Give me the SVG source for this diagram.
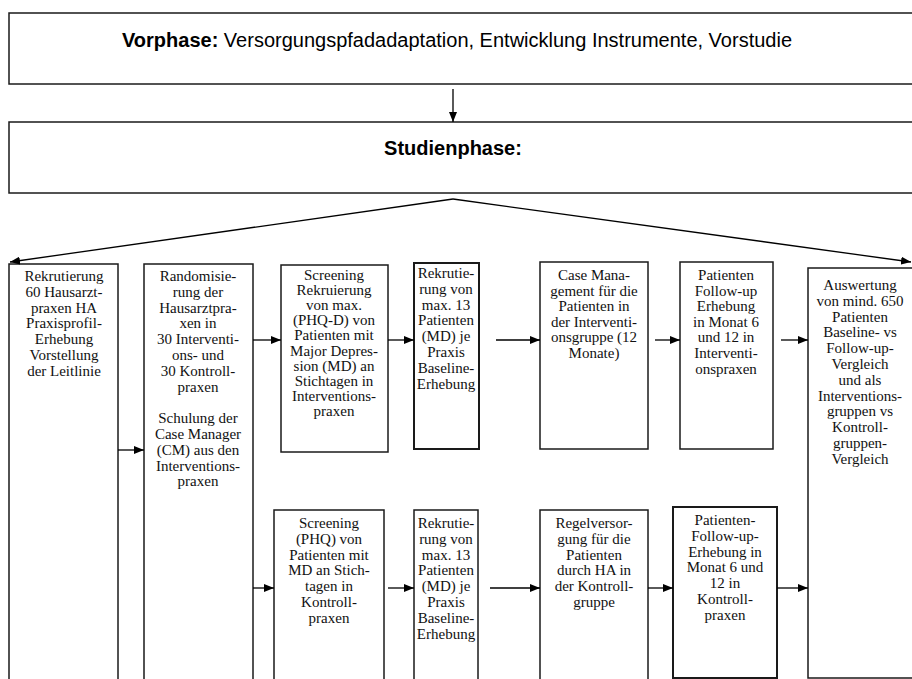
<svg xmlns="http://www.w3.org/2000/svg" width="912" height="679" viewBox="0 0 912 679">
<style>
.box{fill:#fff;stroke:#1a1a1a;stroke-width:1.5}
.thick{stroke-width:2}
.t{font-family:"Liberation Serif","Times New Roman",serif;font-size:15px;fill:#111;text-anchor:middle}
.h{font-family:"Liberation Sans",Arial,sans-serif;font-size:20px;fill:#000;text-anchor:middle}
.c{fill:none;stroke:#000;stroke-width:1.3}
</style>
<defs>
<marker id="ah" markerUnits="userSpaceOnUse" markerWidth="10" markerHeight="8" refX="10" refY="4" orient="auto">
<path d="M0,0 L10,4 L0,8 z" fill="#000"/>
</marker>
</defs>
<rect width="912" height="679" fill="#fff"/>

<g id="vorphase">
<rect class="box" x="9" y="13" width="910" height="71"/>
<text class="h" x="457" y="47"><tspan font-weight="bold">Vorphase:</tspan> Versorgungspfadadaptation, Entwicklung Instrumente, Vorstudie</text>
</g>

<g id="studienphase">
<rect class="box" x="9" y="122" width="910" height="71"/>
<text class="h" x="453" y="155" font-weight="bold">Studienphase:</text>
</g>

<g id="rekrutierung">
<rect class="box" x="9" y="264" width="109" height="430"/>
<text class="t" x="64" y="281"><tspan x="64">Rekrutierung</tspan><tspan x="64" dy="15.8">60 Hausarzt-</tspan><tspan x="64" dy="15.8">praxen HA</tspan><tspan x="64" dy="15.8">Praxisprofil-</tspan><tspan x="64" dy="15.8">Erhebung</tspan><tspan x="64" dy="15.8">Vorstellung</tspan><tspan x="64" dy="15.8">der Leitlinie</tspan></text>
</g>

<g id="randomisierung">
<rect class="box" x="144" y="264" width="109" height="430"/>
<text class="t" x="198" y="281"><tspan x="198">Randomisie-</tspan><tspan x="198" dy="15.8">rung der</tspan><tspan x="198" dy="15.8">Hausarztpra-</tspan><tspan x="198" dy="15.8">xen in</tspan><tspan x="198" dy="15.8">30 Interventi-</tspan><tspan x="198" dy="15.8">ons- und</tspan><tspan x="198" dy="15.8">30 Kontroll-</tspan><tspan x="198" dy="15.8">praxen</tspan><tspan x="198" dy="31.6">Schulung der</tspan><tspan x="198" dy="15.8">Case Manager</tspan><tspan x="198" dy="15.8">(CM) aus den</tspan><tspan x="198" dy="15.8">Interventions-</tspan><tspan x="198" dy="15.8">praxen</tspan></text>
</g>

<g id="screening-int">
<rect class="box" x="281" y="265" width="107" height="187"/>
<text class="t" x="334" y="280"><tspan x="334">Screening</tspan><tspan x="334" dy="15.1">Rekruierung</tspan><tspan x="334" dy="15.1">von max.</tspan><tspan x="334" dy="15.1">(PHQ-D) von</tspan><tspan x="334" dy="15.1">Patienten mit</tspan><tspan x="334" dy="15.1">Major Depres-</tspan><tspan x="334" dy="15.1">sion (MD) an</tspan><tspan x="334" dy="15.1">Stichtagen in</tspan><tspan x="334" dy="15.1">Interventions-</tspan><tspan x="334" dy="15.1">praxen</tspan></text>
</g>

<g id="rekrut-int">
<rect class="box thick" x="414" y="263" width="65" height="186"/>
<text class="t" x="446" y="278"><tspan x="446">Rekrutie-</tspan><tspan x="446" dy="15.8">rung von</tspan><tspan x="446" dy="15.8">max. 13</tspan><tspan x="446" dy="15.8">Patienten</tspan><tspan x="446" dy="15.8">(MD) je</tspan><tspan x="446" dy="15.8">Praxis</tspan><tspan x="446" dy="15.8">Baseline-</tspan><tspan x="446" dy="15.8">Erhebung</tspan></text>
</g>

<g id="case-management">
<rect class="box" x="540" y="262" width="108" height="187"/>
<text class="t" x="594" y="280"><tspan x="594">Case Mana-</tspan><tspan x="594" dy="15.6">gement für die</tspan><tspan x="594" dy="15.6">Patienten in</tspan><tspan x="594" dy="15.6">der Interventi-</tspan><tspan x="594" dy="15.6">onsgruppe (12</tspan><tspan x="594" dy="15.6">Monate)</tspan></text>
</g>

<g id="followup-int">
<rect class="box" x="680" y="262" width="93" height="187"/>
<text class="t" x="726" y="280"><tspan x="726">Patienten</tspan><tspan x="726" dy="15.6">Follow-up</tspan><tspan x="726" dy="15.6">Erhebung</tspan><tspan x="726" dy="15.6">in Monat 6</tspan><tspan x="726" dy="15.6">und 12 in</tspan><tspan x="726" dy="15.6">Interventi-</tspan><tspan x="726" dy="15.6">onspraxen</tspan></text>
</g>

<g id="auswertung">
<rect class="box" x="808" y="268" width="120" height="410"/>
<text class="t" x="860" y="290"><tspan x="860">Auswertung</tspan><tspan x="860" dy="15.8">von mind. 650</tspan><tspan x="860" dy="15.8">Patienten</tspan><tspan x="860" dy="15.8">Baseline- vs</tspan><tspan x="860" dy="15.8">Follow-up-</tspan><tspan x="860" dy="15.8">Vergleich</tspan><tspan x="860" dy="15.8">und als</tspan><tspan x="860" dy="15.8">Interventions-</tspan><tspan x="860" dy="15.8">gruppen vs</tspan><tspan x="860" dy="15.8">Kontroll-</tspan><tspan x="860" dy="15.8">gruppen-</tspan><tspan x="860" dy="15.8">Vergleich</tspan></text>
</g>

<g id="screening-kon">
<rect class="box" x="274" y="510" width="110" height="190"/>
<text class="t" x="329" y="528"><tspan x="329">Screening</tspan><tspan x="329" dy="15.8">(PHQ) von</tspan><tspan x="329" dy="15.8">Patienten mit</tspan><tspan x="329" dy="15.8">MD an Stich-</tspan><tspan x="329" dy="15.8">tagen in</tspan><tspan x="329" dy="15.8">Kontroll-</tspan><tspan x="329" dy="15.8">praxen</tspan></text>
</g>

<g id="rekrut-kon">
<rect class="box" x="414" y="510" width="64" height="190"/>
<text class="t" x="446" y="528"><tspan x="446">Rekrutie-</tspan><tspan x="446" dy="15.8">rung von</tspan><tspan x="446" dy="15.8">max. 13</tspan><tspan x="446" dy="15.8">Patienten</tspan><tspan x="446" dy="15.8">(MD) je</tspan><tspan x="446" dy="15.8">Praxis</tspan><tspan x="446" dy="15.8">Baseline-</tspan><tspan x="446" dy="15.8">Erhebung</tspan></text>
</g>

<g id="regelversorgung">
<rect class="box" x="540" y="510" width="108" height="190"/>
<text class="t" x="594" y="528"><tspan x="594">Regelversor-</tspan><tspan x="594" dy="15.8">gung für die</tspan><tspan x="594" dy="15.8">Patienten</tspan><tspan x="594" dy="15.8">durch HA in</tspan><tspan x="594" dy="15.8">der Kontroll-</tspan><tspan x="594" dy="15.8">gruppe</tspan></text>
</g>

<g id="followup-kon">
<rect class="box thick" x="673" y="507" width="104" height="171"/>
<text class="t" x="725" y="525"><tspan x="725">Patienten-</tspan><tspan x="725" dy="15.8">Follow-up-</tspan><tspan x="725" dy="15.8">Erhebung in</tspan><tspan x="725" dy="15.8">Monat 6 und</tspan><tspan x="725" dy="15.8">12 in</tspan><tspan x="725" dy="15.8">Kontroll-</tspan><tspan x="725" dy="15.8">praxen</tspan></text>
</g>

<g id="connectors">
<line class="c" x1="453" y1="89" x2="453" y2="122" marker-end="url(#ah)"/>
<line class="c" x1="453" y1="199" x2="10" y2="262" marker-end="url(#ah)"/>
<line class="c" x1="453" y1="199" x2="911" y2="262" marker-end="url(#ah)"/>
<line class="c" x1="118" y1="450" x2="144" y2="450" marker-end="url(#ah)"/>
<line class="c" x1="253" y1="340" x2="281" y2="340" marker-end="url(#ah)"/>
<line class="c" x1="388" y1="340" x2="414" y2="340" marker-end="url(#ah)"/>
<line class="c" x1="496" y1="340" x2="540" y2="340" marker-end="url(#ah)"/>
<line class="c" x1="655" y1="340" x2="680" y2="340" marker-end="url(#ah)"/>
<line class="c" x1="781" y1="340" x2="808" y2="340" marker-end="url(#ah)"/>
<line class="c" x1="253" y1="588" x2="274" y2="588" marker-end="url(#ah)"/>
<line class="c" x1="388" y1="588" x2="414" y2="588" marker-end="url(#ah)"/>
<line class="c" x1="490" y1="588" x2="540" y2="588" marker-end="url(#ah)"/>
<line class="c" x1="648" y1="588" x2="673" y2="588" marker-end="url(#ah)"/>
<line class="c" x1="777" y1="588" x2="808" y2="588" marker-end="url(#ah)"/>
</g>
</svg>
